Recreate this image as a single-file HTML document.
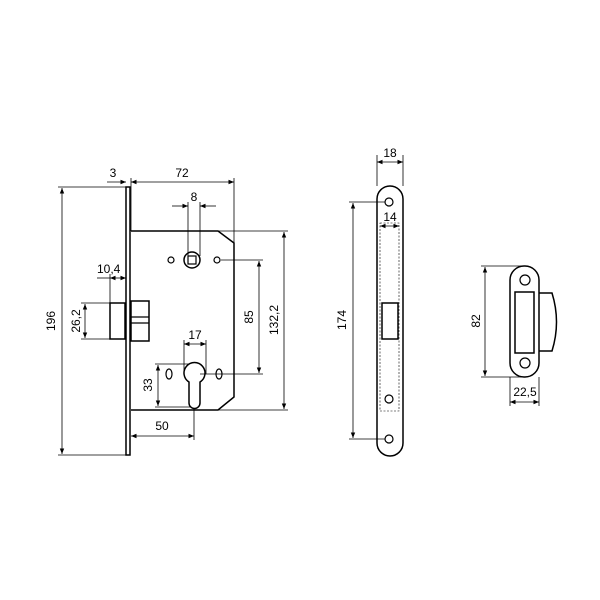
<!DOCTYPE html>
<html><head><meta charset="utf-8"><style>
html,body{margin:0;padding:0;background:#fff;}
svg{display:block}
text{font-family:"Liberation Sans",sans-serif;font-size:12px;fill:#000;}
</style></head><body>
<svg width="600" height="600" viewBox="0 0 600 600" xmlns="http://www.w3.org/2000/svg">
<defs>
<marker id="a" viewBox="0 0 10 10" refX="10" refY="5" markerWidth="7" markerHeight="7" orient="auto-start-reverse"><path d="M0,1 L10,5 L0,9 Z" fill="#000"/></marker>
</defs>
<g fill="none" stroke="#000">
<!-- faceplate -->
<rect x="126" y="187" width="4" height="268" stroke-width="1.5"/>
<!-- lock body -->
<path d="M131,231 L218,231 L234,243 L234,397 L218,410 L131,410" stroke-width="1.5"/>
<!-- spindle -->
<circle cx="192" cy="260" r="8" stroke-width="1.5"/>
<rect x="188" y="256" width="8" height="8" stroke-width="1.2"/>
<circle cx="171" cy="260" r="3" stroke-width="1.2"/>
<circle cx="217" cy="260" r="3" stroke-width="1.2"/>
<!-- cylinder -->
<path d="M189,382 A10.5,10.5 0 1 1 200,382 L200,403 A5.5,5.5 0 0 1 189,403 Z" stroke-width="1.5"/>
<ellipse cx="169" cy="374" rx="3" ry="5" stroke-width="1.2"/>
<ellipse cx="219" cy="374" rx="3" ry="5" stroke-width="1.2"/>
<!-- latch -->
<rect x="110" y="303" width="15" height="36" stroke-width="1.5"/>
<rect x="131" y="301" width="18" height="40" stroke-width="1.5"/>
<line x1="131" y1="317" x2="149" y2="317" stroke-width="1.2"/>
<line x1="131" y1="323" x2="149" y2="323" stroke-width="1.2"/>

<!-- dims stroke thin -->
<g stroke-width="0.8">
<!-- 196 -->
<line x1="58" y1="187" x2="126" y2="187"/><line x1="58" y1="455" x2="126" y2="455"/>
<line x1="62" y1="188" x2="62" y2="454" marker-start="url(#a)" marker-end="url(#a)"/>
<!-- 3 and 72 -->
<line x1="131" y1="178" x2="131" y2="231"/><line x1="234" y1="178" x2="234" y2="243"/>
<line x1="107" y1="182" x2="126" y2="182" marker-end="url(#a)"/>
<line x1="131" y1="182" x2="234" y2="182" marker-start="url(#a)" marker-end="url(#a)"/>
<!-- 8 -->
<line x1="188" y1="202" x2="188" y2="256"/><line x1="200" y1="202" x2="200" y2="256"/>
<line x1="172" y1="206" x2="188" y2="206" marker-end="url(#a)"/>
<line x1="216" y1="206" x2="200" y2="206" marker-end="url(#a)"/>
<!-- 10,4 -->
<line x1="110" y1="274" x2="110" y2="303"/>
<line x1="97" y1="278" x2="110" y2="278"/>
<line x1="110" y1="278" x2="126" y2="278" marker-start="url(#a)" marker-end="url(#a)"/>
<!-- 26,2 -->
<line x1="81" y1="303" x2="110" y2="303"/><line x1="81" y1="339" x2="110" y2="339"/>
<line x1="85" y1="304" x2="85" y2="338" marker-start="url(#a)" marker-end="url(#a)"/>
<!-- 85 -->
<line x1="221" y1="260" x2="263" y2="260"/><line x1="200" y1="374" x2="263" y2="374"/>
<line x1="259" y1="261" x2="259" y2="373" marker-start="url(#a)" marker-end="url(#a)"/>
<!-- 132,2 -->
<line x1="218" y1="231" x2="288" y2="231"/><line x1="218" y1="410" x2="288" y2="410"/>
<line x1="284" y1="232" x2="284" y2="409" marker-start="url(#a)" marker-end="url(#a)"/>
<!-- 17 -->
<line x1="184" y1="340" x2="184" y2="374"/><line x1="206" y1="340" x2="206" y2="374"/>
<line x1="184" y1="344" x2="206" y2="344" marker-start="url(#a)" marker-end="url(#a)"/>
<!-- 33 -->
<line x1="155" y1="364" x2="190" y2="364"/><line x1="155" y1="407" x2="190" y2="407"/>
<line x1="158" y1="365" x2="158" y2="406" marker-start="url(#a)" marker-end="url(#a)"/>
<!-- 50 -->
<line x1="194" y1="408" x2="194" y2="440"/>
<line x1="131" y1="436" x2="194" y2="436" marker-start="url(#a)" marker-end="url(#a)"/>
</g>

<!-- strike plate long -->
<rect x="377" y="186" width="26" height="270" rx="13" ry="13" stroke-width="1.5"/>
<circle cx="389" cy="202" r="4" stroke-width="1.2"/>
<circle cx="389" cy="399" r="4" stroke-width="1.2"/>
<circle cx="389" cy="439" r="4" stroke-width="1.2"/>
<rect x="380" y="223" width="19" height="188" stroke-width="0.6" stroke-dasharray="2,1.5"/>
<rect x="382" y="303" width="16" height="36" stroke-width="1.5"/>
<g stroke-width="0.8">
<line x1="377" y1="155" x2="377" y2="186"/><line x1="403" y1="155" x2="403" y2="186"/>
<line x1="377" y1="162" x2="403" y2="162" marker-start="url(#a)" marker-end="url(#a)"/>
<line x1="380" y1="226" x2="399" y2="226" marker-start="url(#a)" marker-end="url(#a)"/>
<line x1="349" y1="202" x2="385" y2="202"/><line x1="349" y1="439" x2="385" y2="439"/>
<line x1="353" y1="203" x2="353" y2="438" marker-start="url(#a)" marker-end="url(#a)"/>
</g>

<!-- small strike -->
<rect x="510" y="266" width="29" height="111" rx="14" ry="14" stroke-width="1.5"/>
<path d="M539,293 L552,293 Q561,322 552,351 L539,351" stroke-width="1.5"/>
<rect x="515" y="292" width="19" height="61" stroke-width="1.5"/>
<circle cx="525" cy="280" r="5" stroke-width="1.2"/>
<circle cx="525" cy="363" r="5" stroke-width="1.2"/>
<g stroke-width="0.8">
<line x1="481" y1="266" x2="525" y2="266"/><line x1="481" y1="377" x2="525" y2="377"/>
<line x1="485" y1="267" x2="485" y2="376" marker-start="url(#a)" marker-end="url(#a)"/>
<line x1="510" y1="377" x2="510" y2="406"/><line x1="539" y1="377" x2="539" y2="406"/>
<line x1="510" y1="402" x2="539" y2="402" marker-start="url(#a)" marker-end="url(#a)"/>
</g>
</g>

<text x="113" y="177" text-anchor="middle">3</text>
<text x="182" y="177" text-anchor="middle">72</text>
<text x="194" y="201" text-anchor="middle">8</text>
<text x="97" y="273">10,4</text>
<text x="195" y="339" text-anchor="middle">17</text>
<text x="162" y="430" text-anchor="middle">50</text>
<text transform="translate(55,321) rotate(-90)" text-anchor="middle">196</text>
<text transform="translate(80,321) rotate(-90)" text-anchor="middle">26,2</text>
<text transform="translate(253,317) rotate(-90)" text-anchor="middle">85</text>
<text transform="translate(278,320) rotate(-90)" text-anchor="middle">132,2</text>
<text transform="translate(152,385) rotate(-90)" text-anchor="middle">33</text>
<text x="390" y="157" text-anchor="middle">18</text>
<text x="390" y="221" text-anchor="middle">14</text>
<text transform="translate(346,320) rotate(-90)" text-anchor="middle">174</text>
<text transform="translate(480,321) rotate(-90)" text-anchor="middle">82</text>
<text x="525" y="396" text-anchor="middle">22,5</text>
</svg>
</body></html>
